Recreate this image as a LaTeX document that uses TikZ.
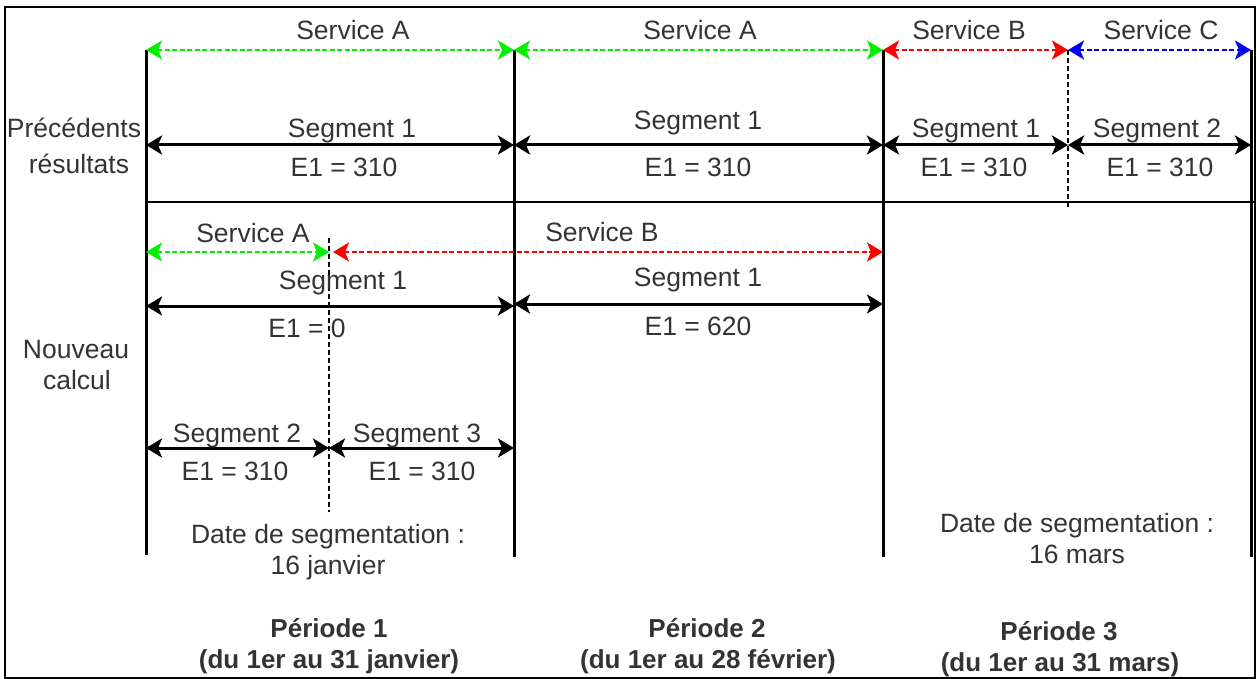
\documentclass[tikz,border=0pt]{standalone}
\usepackage{fontspec}
\setmainfont{Liberation Sans}
\usetikzlibrary{arrows.meta}
\definecolor{txt}{HTML}{333333}
\definecolor{svcgreen}{HTML}{00F000}
\definecolor{svcred}{HTML}{FF0000}
\definecolor{svcblue}{HTML}{0000FF}
\begin{document}
\begin{tikzpicture}[x=1pt,y=-1pt,
  lbl/.style={font=\fontsize{26.5}{30}\selectfont, text=txt, anchor=base, inner sep=0pt},
  blbl/.style={font=\fontsize{26}{30}\selectfont\bfseries, text=txt, anchor=base, inner sep=0pt},
  bar/.style={line width=3pt, black},
  tipA/.tip={Stealth[length=16pt,width=19pt,inset=4pt]},
  dim/.style={line width=3pt, black, tipA-tipA},
  svc/.style={line width=2.6pt, dash pattern=on 5pt off 2.5pt, tipA-tipA},
  cut/.style={line width=2.4pt, black, dash pattern=on 5pt off 3pt}]
\useasboundingbox (0,0) rectangle (1257,679);
\draw[line width=2pt] (5,7) rectangle (1255,678);

% main vertical lines
\coordinate (t1) at (146,50);  \coordinate (b1) at (146,555);
\coordinate (t2) at (514,50);  \coordinate (b2) at (514,557);
\coordinate (t3) at (883,50);  \coordinate (b3) at (883,557);
\coordinate (t4) at (1251,50); \coordinate (b4) at (1251,557);
\coordinate (tc) at (1068,50); \coordinate (bc) at (1068,208);
\draw[bar] (t1) -- (b1);
\draw[bar] (t2) -- (b2);
\draw[bar] (t3) -- (b3);
\draw[bar] (t4) -- (b4);
\draw[cut] (tc) -- (bc);

% separator
\coordinate (h1) at (146,202); \coordinate (h2) at (1255,202);
\draw[line width=2.6pt] (h1) -- (h2);

% cut date period 1
\coordinate (d1) at (329,238); \coordinate (d2) at (329,512);
\draw[cut] (d1) -- (d2);

% top services
\draw[svc, svcgreen] (t1) -- (t2);
\draw[svc, svcgreen] (t2) -- (t3);
\draw[svc, svcred] (t3) -- (tc);
\draw[svc, svcblue] (tc) -- (t4);
\node[lbl] (sa1) at (353,40) {Service A};
\node[lbl] (sa2) at (700,40) {Service A};
\node[lbl] (sb3) at (969,40) {Service B};
\node[lbl] (sc3) at (1161,40) {Service C};

% top segments
\coordinate (u1) at (146,145); \coordinate (u2) at (514,145);
\coordinate (u3) at (883,145); \coordinate (uc) at (1068,145);
\coordinate (u4) at (1251,145);
\draw[dim] (u1) -- (u2);
\draw[dim] (u2) -- (u3);
\draw[dim] (u3) -- (uc);
\draw[dim] (uc) -- (u4);
\node[lbl] (g11) at (352,138) {Segment 1};
\node[lbl] (e11) at (344,177) {E1 = 310};
\node[lbl] (g21) at (698,130) {Segment 1};
\node[lbl] (e21) at (698,177) {E1 = 310};
\node[lbl] (g31) at (976,138) {Segment 1};
\node[lbl] (e31) at (974,177) {E1 = 310};
\node[lbl] (g32) at (1157,138) {Segment 2};
\node[lbl] (e32) at (1160,177) {E1 = 310};

\node[lbl] (prec) at (74,138) {Précédents};
\node[lbl] (res) at (79,174) {résultats};
\node[lbl] (nouv) at (76,358) {Nouveau};
\node[lbl] (calc) at (77,389) {calcul};

% lower services
\coordinate (l1) at (146,252); \coordinate (lc) at (329,252); \coordinate (l3) at (883,252);
\draw[svc, svcgreen] (l1) -- (lc);
\draw[svc, svcred, shorten <=4pt] (lc) -- (l3);
\node[lbl] (lsa) at (253,242) {Service A};
\node[lbl] (lsb) at (602,241) {Service B};

% lower segment 1
\coordinate (m1) at (146,306); \coordinate (m2) at (514,306);
\coordinate (k2) at (514,304); \coordinate (k3) at (883,304);
\draw[dim] (m1) -- (m2);
\draw[dim] (k2) -- (k3);
\node[lbl] (lg1) at (343,289) {Segment 1};
\node[lbl] (le1) at (307,337) {E1 = 0};
\node[lbl] (lg2) at (698,286) {Segment 1};
\node[lbl] (le2) at (698,335) {E1 = 620};

% lower segments 2 and 3
\coordinate (n1) at (146,448); \coordinate (nc) at (329,448); \coordinate (n2) at (514,448);
\draw[dim] (n1) -- (nc);
\draw[dim] (nc) -- (n2);
\node[lbl] (sg2) at (237,442) {Segment 2};
\node[lbl] (se2) at (235,480) {E1 = 310};
\node[lbl] (sg3) at (417,442) {Segment 3};
\node[lbl] (se3) at (422,480) {E1 = 310};

% dates
\node[lbl] (dt1) at (328,543) {Date de segmentation :};
\node[lbl] (dd1) at (328,574) {16 janvier};
\node[lbl] (dt3) at (1077,532) {Date de segmentation :};
\node[lbl] (dd3) at (1077,563) {16 mars};

% periods
\node[blbl] (p1) at (329,637) {Période 1};
\node[blbl] (q1) at (329,668) {(du 1er au 31 janvier)};
\node[blbl] (p2) at (707,637) {Période 2};
\node[blbl] (q2) at (708,668) {(du 1er au 28 février)};
\node[blbl] (p3) at (1059,640) {Période 3};
\node[blbl] (q3) at (1060,671) {(du 1er au 31 mars)};
\end{tikzpicture}
\end{document}
